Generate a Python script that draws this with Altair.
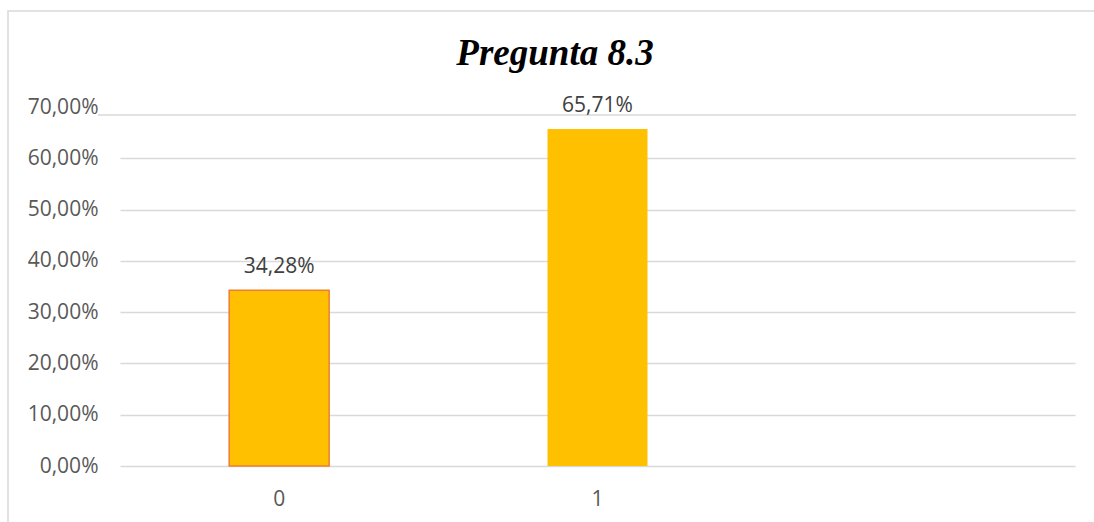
import altair as alt
import pandas as pd

# Respuestas a la pregunta 8.3 (porcentaje de cada opción)
categorias = ["0", "1"]
porcentajes = [34.28, 65.71]

# Eje X: dos categorías con datos y una tercera posición vacía
eje_x = ["0", "1", ""]
# Marcas del eje Y (en %)
ticks_y = [0, 10, 20, 30, 40, 50, 60, 70]

titulo = "Pregunta 8.3"

df = pd.DataFrame({"categoria": categorias, "porcentaje": porcentajes})

GRIS_REJILLA = "#d9d9d9"
GRIS_TEXTO = "#595959"
FUENTE = "Open Sans"

x_enc = alt.X(
    "categoria:N",
    scale=alt.Scale(domain=eje_x, paddingInner=0.686, paddingOuter=0.343),
    axis=alt.Axis(
        title=None,
        labelAngle=0,
        ticks=False,
        domain=False,
        labelPadding=22,
        labelFont=FUENTE,
        labelFontSize=21,
        labelColor=GRIS_TEXTO,
        grid=False,
    ),
)
y_enc = alt.Y(
    "porcentaje:Q",
    scale=alt.Scale(domain=[0, 70], nice=False),
    axis=alt.Axis(
        title=None,
        values=ticks_y,
        ticks=False,
        domain=False,
        grid=True,
        gridColor=GRIS_REJILLA,
        gridWidth=1.5,
        # la línea del 70 % no se dibuja
        gridOpacity={"condition": {"test": "datum.value >= 70", "value": 0}, "value": 1},
        labelPadding=22,
        labelFont=FUENTE,
        labelFontSize=21,
        labelColor=GRIS_TEXTO,
        labelExpr="replace(format(datum.value / 100, '.2%'), '.', ',')",
    ),
)

base = alt.Chart(df)

barras = base.mark_bar(color="#FFC000").encode(
    x=x_enc,
    y=y_enc,
    stroke=alt.value("#ED7D31"),
    strokeWidth=alt.condition(alt.datum.categoria == "0", alt.value(1.5), alt.value(0)),
)

etiquetas = (
    base.transform_calculate(
        texto="replace(format(datum.porcentaje / 100, '.2%'), '.', ',')"
    )
    .mark_text(
        baseline="alphabetic",
        dy=-17,
        font=FUENTE,
        fontSize=21,
        color="#404040",
    )
    .encode(x=x_enc, y=y_enc, text="texto:N")
)

uno = alt.Data(values=[{}])

# marco exterior del gráfico
marco = (
    alt.Chart(uno)
    .mark_rect(fill="transparent", stroke=GRIS_REJILLA, strokeWidth=1.5)
    .encode(
        x=alt.value(-112),
        x2=alt.value(990),
        y=alt.value(-96),
        y2=alt.value(440),
    )
)

# línea superior del área de trazado
linea_sup = (
    alt.Chart(uno)
    .mark_rule(color=GRIS_REJILLA, strokeWidth=1.5)
    .encode(x=alt.value(-22), x2=alt.value(956), y=alt.value(8))
)

cabecera = (
    alt.Chart(uno)
    .mark_text(
        text=titulo,
        font="Liberation Serif",
        fontSize=37,
        fontWeight="bold",
        fontStyle="italic",
        color="#000000",
        align="center",
        baseline="alphabetic",
    )
    .encode(x=alt.value(435), y=alt.value(-42))
)

chart = (
    alt.layer(marco, linea_sup, barras, etiquetas, cabecera)
    .properties(
        width=955,
        height=359,
        padding={"left": 120, "top": 107, "right": 19, "bottom": 56},
        autosize=alt.AutoSizeParams(type="none"),
        view=alt.ViewBackground(stroke="transparent", strokeWidth=0),
    )
    .configure_view(stroke="transparent", strokeWidth=0)
    .configure(background="white")
)

chart.save("out.html", embed_options={"renderer": "svg", "actions": False})
